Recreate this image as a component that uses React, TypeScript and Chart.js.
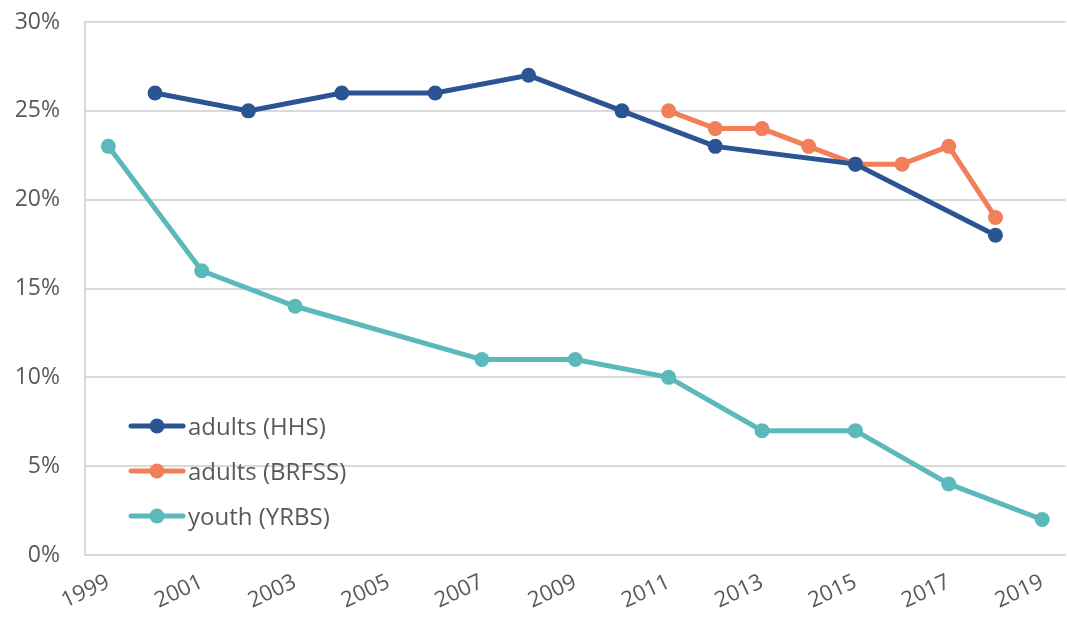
import React, { useEffect, useRef } from "react";
import { Chart, registerables } from "chart.js";

Chart.register(...registerables);

const years = [
  "1999", "2000", "2001", "2002", "2003", "2004", "2005", "2006", "2007", "2008", "2009",
  "2010", "2011", "2012", "2013", "2014", "2015", "2016", "2017", "2018", "2019",
];
const adultsHHS = [null, 26, null, 25, null, 26, null, 26, null, 27, null, 25, null, 23, null, null, 22, null, null, 18, null];
const adultsBRFSS = [null, null, null, null, null, null, null, null, null, null, null, null, 25, 24, 24, 23, 22, 22, 23, 19, null];
const youthYRBS = [23, null, 16, null, 14, null, null, null, 11, null, 11, null, 10, null, 7, null, 7, null, 4, null, 2];

const seriesNames = ["adults (HHS)", "adults (BRFSS)", "youth (YRBS)"];
const seriesColors = ["#2B5592", "#F07F5A", "#5BB9BC"];
const FONT = "'Open Sans', 'Noto Sans', sans-serif";

export default function App() {
  const ref = useRef<HTMLCanvasElement>(null);
  useEffect(() => {
    document.body.style.margin = "0";
    const data = [adultsHHS, adultsBRFSS, youthYRBS];
    const chart = new Chart(ref.current!, {
      type: "line",
      data: {
        labels: years,
        datasets: data.map((d, i) => ({
          label: seriesNames[i],
          data: d,
          borderColor: seriesColors[i],
          backgroundColor: seriesColors[i],
          borderWidth: 5,
          pointRadius: 7.5,
          pointHoverRadius: 7.5,
          pointBorderWidth: 0,
          spanGaps: true,
          tension: 0,
        })),
      },
      options: {
        animation: false,
        responsive: false,
        layout: { padding: { left: 0, right: 0, top: 22, bottom: 0 } },
        plugins: { legend: { display: false }, tooltip: { enabled: false } },
        scales: {
          x: {
            offset: true,
            grid: { display: false, drawTicks: false },
            border: { display: true, color: "#d9d9d9", width: 2 },
            afterFit: (s: any) => { s.height = 63; },
            ticks: {
              autoSkip: false,
              maxRotation: 25,
              minRotation: 25,
              padding: 14,
              color: "#595959",
              font: { family: FONT, size: 22 },
              callback: (v: any, i: number) => (i % 2 === 0 ? years[i] : ""),
            },
          },
          y: {
            min: 0,
            max: 30,
            grid: { color: "#d9d9d9", lineWidth: 2, drawTicks: false },
            border: { display: true, color: "#d9d9d9", width: 2 },
            afterFit: (s: any) => { s.width = 85; s.paddingTop = 0; },
            ticks: {
              stepSize: 5,
              padding: 25,
              color: "#595959",
              font: { family: FONT, size: 23 },
              callback: (v: any) => v + "%",
            },
          },
        },
      },
    });
    return () => chart.destroy();
  }, []);

  return (
    <div style={{ position: "relative", width: 1067, height: 618, overflow: "hidden", fontFamily: FONT }}>
      <canvas ref={ref} width={1073} height={618} style={{ display: "block" }} />
      <div style={{ position: "absolute", left: 128, top: 403 }}>
        {seriesNames.map((n, i) => (
          <div key={n} style={{ display: "flex", alignItems: "center", height: 45 }}>
            <svg width={58} height={20} style={{ marginRight: 2 }}>
              <line x1={3} y1={10} x2={55} y2={10} stroke={seriesColors[i]} strokeWidth={5} strokeLinecap="round" />
              <circle cx={29} cy={10} r={7.5} fill={seriesColors[i]} />
            </svg>
            <span style={{ fontSize: 24, color: "#595959" }}>{n}</span>
          </div>
        ))}
      </div>
    </div>
  );
}
